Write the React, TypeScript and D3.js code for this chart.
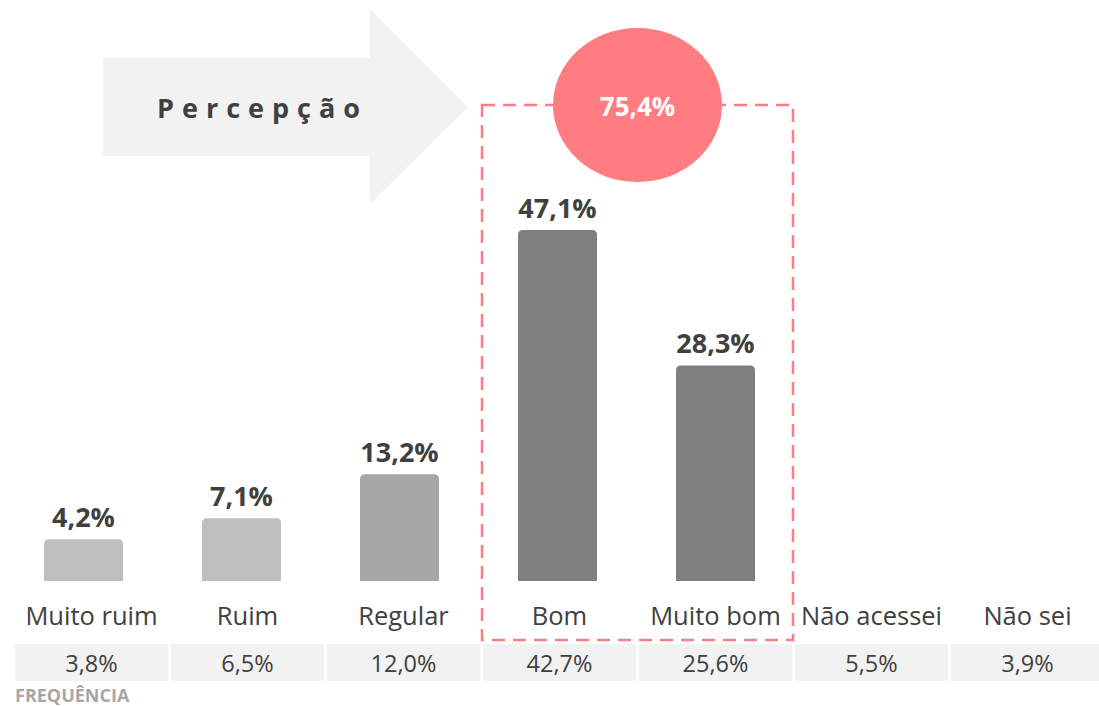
import React from 'react';
import * as d3 from 'd3';

const categories = ['Muito ruim', 'Ruim', 'Regular', 'Bom', 'Muito bom', 'Não acessei', 'Não sei'];
const ratedCategories = ['Muito ruim', 'Ruim', 'Regular', 'Bom', 'Muito bom'];
const perception = [4.2, 7.1, 13.2, 47.1, 28.3];
const frequency = [3.8, 6.5, 12.0, 42.7, 25.6, 5.5, 3.9];
const highlighted = ['Bom', 'Muito bom'];
const highlightTotal = 75.4;
const title = 'Percepção';
const tableTitle = 'FREQUÊNCIA';

const W = 1099;
const H = 707;
const FONT = '"Open Sans", sans-serif';
const TEXT = '#404040';
const ACCENT = '#ff7c80';

const ptBR = d3.formatLocale({ decimal: ',', thousands: '.', grouping: [3], currency: ['R$', ''] });
const pct = (v: number) => ptBR.format('.1f')(v) + '%';

const barColor = d3.scaleOrdinal<string, string>()
  .domain(ratedCategories)
  .range(['#bfbfbf', '#bfbfbf', '#a6a6a6', '#7f7f7f', '#7f7f7f']);

// top-rounded bar
function barPath(x: number, y: number, w: number, h: number, r: number) {
  return `M${x},${y + h}V${y + r}Q${x},${y} ${x + r},${y}H${x + w - r}Q${x + w},${y} ${x + w},${y + r}V${y + h}Z`;
}

export default function App() {
  // bars
  const xBar = d3.scaleBand<string>()
    .domain(categories)
    .range([4.5, 1110.5])
    .paddingInner(0.5)
    .paddingOuter(0.25);
  const yBar = d3.scaleLinear().domain([-1.6, 47.1]).range([581, 230]);

  // table cells / category labels
  const xCell = d3.scaleBand<string>()
    .domain(categories)
    .range([15, 1104])
    .paddingInner(3 / 156)
    .paddingOuter(0);

  const boxX1 = (xCell(highlighted[0]) as number) - 1;
  const boxX2 = (xCell(highlighted[highlighted.length - 1]) as number) + xCell.bandwidth() + 1;
  const boxY1 = 105;
  const boxY2 = 640;
  const boxCx = (boxX1 + boxX2) / 2;

  // arrow shape
  const arrow = d3.line()([
    [103, 58], [370, 58], [370, 9], [468, 107], [370, 204], [370, 156], [103, 156],
  ]) + 'Z';

  return (
    <svg width={W} height={H} style={{ position: 'absolute', left: 0, top: 0, background: '#fff' }}>
      <path d={arrow} fill="#f2f2f2" />
      <text x={157} y={118} fill={TEXT} fontFamily={FONT} fontWeight={700} fontSize={27} letterSpacing={8}>
        {title}
      </text>

      <rect x={boxX1} y={boxY1} width={boxX2 - boxX1} height={boxY2 - boxY1}
        fill="none" stroke={ACCENT} strokeWidth={2.5} strokeDasharray="13,8" />
      <ellipse cx={boxCx} cy={105} rx={84.5} ry={77} fill={ACCENT} />
      <text x={boxCx} y={116} textAnchor="middle" fill="#fff" fontFamily={FONT} fontWeight={700} fontSize={26}>
        {pct(highlightTotal)}
      </text>

      {ratedCategories.map((c, i) => {
        const x = xBar(c) as number;
        const y = yBar(perception[i]);
        return (
          <g key={c}>
            <path d={barPath(x, y, xBar.bandwidth(), yBar(-1.6) - y, 5)} fill={barColor(c)} />
            <text x={x + xBar.bandwidth() / 2} y={y - 12} textAnchor="middle" fill={TEXT}
              fontFamily={FONT} fontWeight={700} fontSize={27}>
              {pct(perception[i])}
            </text>
          </g>
        );
      })}

      {categories.map((c, i) => {
        const x = xCell(c) as number;
        const cx = x + xCell.bandwidth() / 2;
        return (
          <g key={c}>
            <text x={cx} y={625} textAnchor="middle" fill={TEXT} fontFamily={FONT} fontSize={25.5}>{c}</text>
            <rect x={x} y={644} width={xCell.bandwidth()} height={37} fill="#f2f2f2" />
            <text x={cx} y={672} textAnchor="middle" fill={TEXT} fontFamily={FONT} fontSize={23.5}>
              {pct(frequency[i])}
            </text>
          </g>
        );
      })}

      <text x={15} y={702} fill="#a6a6a6" fontFamily={FONT} fontWeight={700} fontSize={18}>{tableTitle}</text>
    </svg>
  );
}
